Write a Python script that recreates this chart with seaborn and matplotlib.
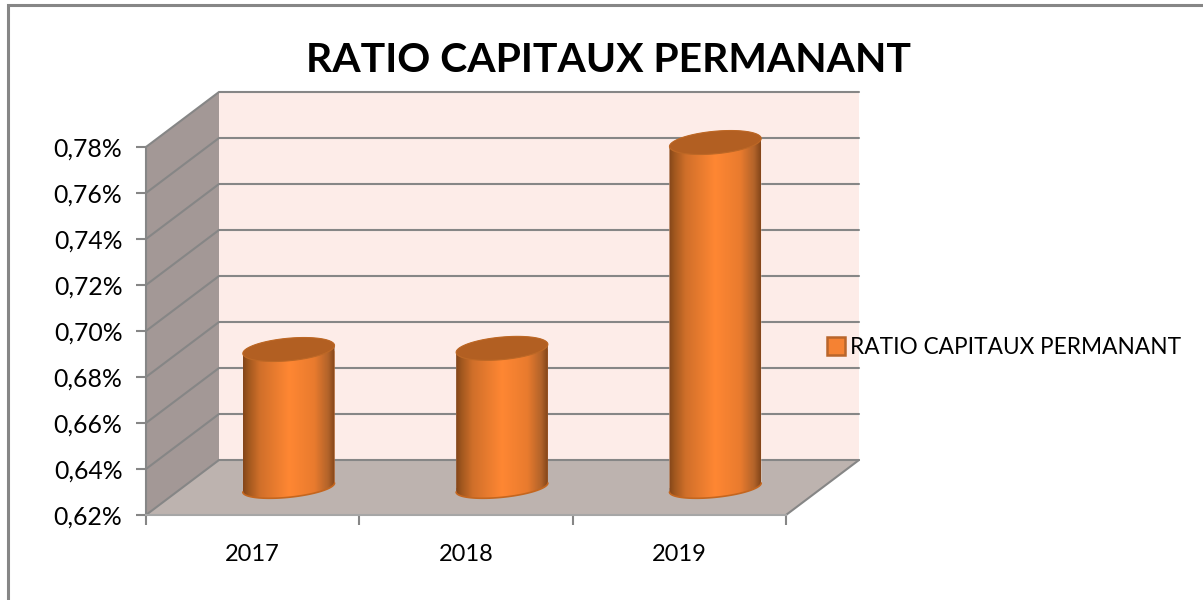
import matplotlib
matplotlib.use('Agg')
import matplotlib.pyplot as plt
from matplotlib.colors import LinearSegmentedColormap
from matplotlib.patches import Patch, Polygon
import numpy as np
import pandas as pd
import seaborn as sns

title = 'RATIO CAPITAUX PERMANANT'
years = ['2017', '2018', '2019']
ratios = [0.680, 0.6805, 0.770]
y_ticks = [0.62, 0.64, 0.66, 0.68, 0.70, 0.72, 0.74, 0.76, 0.78]

W, H = 1203, 600
GREY = '#868686'
# 3d look: depth of the chart box and of the bar row, in pixels
DEPTH = (73, -55)
MID = (36, -27.5)
FRONT = (146, 147, 786, 515)  # left, top, right, bottom


def add_px_axes(fig, left, top, right, bottom, **kwargs):
  return fig.add_axes(
      [left / W, 1 - bottom / H, (right - left) / W, (bottom - top) / H],
      **kwargs)


def ellipse_arc(cx, cy, a, tilt, b, t):
  return np.column_stack([cx + a * np.cos(t), cy - tilt * np.cos(t) + b * np.sin(t)])


def draw_box(back, front):
  to_back = lambda x, y: back.transData.inverted().transform(
      front.transData.transform((x, y)))
  l = FRONT[0]
  r = FRONT[2]
  bl = to_back(-0.5, y_ticks[0])
  tl = to_back(-0.5, y_ticks[-1])
  br = to_back(2.5, y_ticks[0])
  dx, dy = DEPTH
  back.add_patch(Polygon([(bl[0] + dx, tl[1] + dy), (br[0] + dx, tl[1] + dy),
                          (br[0] + dx, bl[1] + dy), (bl[0] + dx, bl[1] + dy)],
                         fc='#fdece8', ec='none'))
  back.add_patch(Polygon([tuple(bl), tuple(tl), (tl[0] + dx, tl[1] + dy),
                          (bl[0] + dx, bl[1] + dy)], fc='#a39896', ec='none'))
  back.add_patch(Polygon([tuple(bl), (bl[0] + dx, bl[1] + dy),
                          (br[0] + dx, bl[1] + dy), tuple(br)],
                         fc='#bdb3af', ec='none'))
  for tick in y_ticks:
    _, y = to_back(-0.5, tick)
    back.plot([l, l + dx, r + dx], [y, y + dy, y + dy], color=GREY, lw=1.5,
              solid_joinstyle='miter')
  back.plot([r, r + dx], [bl[1], bl[1] + dy], color=GREY, lw=1.5)
  # outer chart border, only left and top show
  back.plot([8, 8, W], [H, 5, 5], color=GREY, lw=2.2, solid_joinstyle='miter')


def draw_cylinders(bars, over, cmap):
  to_over = lambda x, y: over.transData.inverted().transform(
      bars.transData.transform((x, y)))
  for patch in bars.patches:
    x0 = patch.get_x()
    x1 = x0 + patch.get_width()
    left, top = to_over(x0, patch.get_height())
    right, bottom = to_over(x1, y_ticks[0])
    cx = (left + right) / 2
    a = (right - left) / 2
    upper = ellipse_arc(cx, top, a, 4, -11.3, np.linspace(np.pi, 0, 60))
    lower = ellipse_arc(cx, bottom, a, 4.5, 9.8, np.linspace(0, np.pi, 60))
    body = Polygon(np.vstack([upper, lower]), fc='none', ec='none')
    over.add_patch(body)
    patch.set_clip_path(body)
    img = over.imshow(np.linspace(0, 1, 128).reshape(1, -1), cmap=cmap,
                      extent=(left, right, bottom + 16, top - 16),
                      aspect='auto', zorder=2)
    img.set_clip_path(body)
    over.plot(lower[:, 0], lower[:, 1], color='#c4661f', lw=1.2, zorder=3)
    cap = ellipse_arc(cx, top, a, 4, 11.3, np.linspace(0, 2 * np.pi, 120))
    over.add_patch(Polygon(cap, fc='#b25f22', ec='#bd6826', lw=0.8, zorder=4))


def main():
  sns.set_theme(style='white')
  plt.rcParams['font.family'] = ['Lato', 'DejaVu Sans']

  fig = plt.figure(figsize=(W / 100, H / 100), dpi=100, facecolor='white')

  back = add_px_axes(fig, 0, 0, W, H, zorder=0)
  back.set_xlim(0, W)
  back.set_ylim(H, 0)
  back.axis('off')

  # front plane of the box carries ticks and labels
  front = add_px_axes(fig, *FRONT, zorder=1)
  front.patch.set_alpha(0)
  front.set_xlim(-0.5, 2.5)
  front.set_ylim(y_ticks[0], y_ticks[-1])
  front.set_yticks(y_ticks)
  front.set_yticklabels([f'{t * 1:.2f}%'.replace('.', ',') for t in y_ticks])
  front.set_xticks([-0.5, 0.5, 1.5, 2.5])
  front.set_xticklabels([])
  front.set_xticks([0, 1, 2], labels=years, minor=True)
  front.tick_params(axis='both', which='major', length=7, width=1.5, color=GREY,
                    left=True, bottom=True, labelsize=17.8, labelcolor='black',
                    pad=10)
  front.tick_params(axis='x', which='minor', length=0, bottom=False,
                    labelsize=17, labelcolor='black', pad=21)
  for side in ['top', 'right']:
    front.spines[side].set_visible(False)
  for side in ['left', 'bottom']:
    front.spines[side].set_color(GREY)
    front.spines[side].set_linewidth(1.5)
  front.spines['bottom'].set_color('#a6a6a6')
  front.set_xlabel('')
  front.set_ylabel('')

  draw_box(back, front)

  # bars stand halfway into the box
  bars = add_px_axes(fig, FRONT[0] + MID[0], FRONT[1] + MID[1],
                     FRONT[2] + MID[0], FRONT[3] + MID[1], zorder=2)
  df = pd.DataFrame({'year': years, 'ratio': ratios})
  sns.barplot(data=df, x='year', y='ratio', color='#f58233', saturation=1,
              width=0.43, ax=bars)
  bars.set_xlim(-0.5, 2.5)
  bars.set_ylim(y_ticks[0], y_ticks[-1])
  bars.axis('off')

  over = add_px_axes(fig, 0, 0, W, H, zorder=3)
  over.patch.set_alpha(0)
  over.axis('off')
  over.set_xlim(0, W)
  over.set_ylim(H, 0)

  cmap = LinearSegmentedColormap.from_list(
      'cyl', [(0, '#84461a'), (0.06, '#a2581f'), (0.18, '#d06f2a'),
              (0.5, '#ff8733'), (0.78, '#e97b2e'), (0.93, '#b2632a'),
              (1, '#84461a')])
  draw_cylinders(bars, over, cmap)
  over.set_xlim(0, W)
  over.set_ylim(H, 0)

  fig.text(608 / W, 1 - 60 / H, title, ha='center', va='center', fontsize=29.4,
           fontweight='bold', color='black', zorder=5)
  handle = Patch(facecolor='#f58233', edgecolor='#b9652b', linewidth=1.8)
  legend = fig.legend(handles=[handle], labels=[title], loc='center left',
                      bbox_to_anchor=(827 / W, 1 - 347.5 / H), frameon=False,
                      fontsize=16.3, labelcolor='black', handlelength=0.8,
                      handleheight=0.8, handletextpad=0.2, borderpad=0,
                      borderaxespad=0)
  legend.set_zorder(5)

  fig.savefig('out.png', dpi=100)


if __name__ == "__main__":
  main()
